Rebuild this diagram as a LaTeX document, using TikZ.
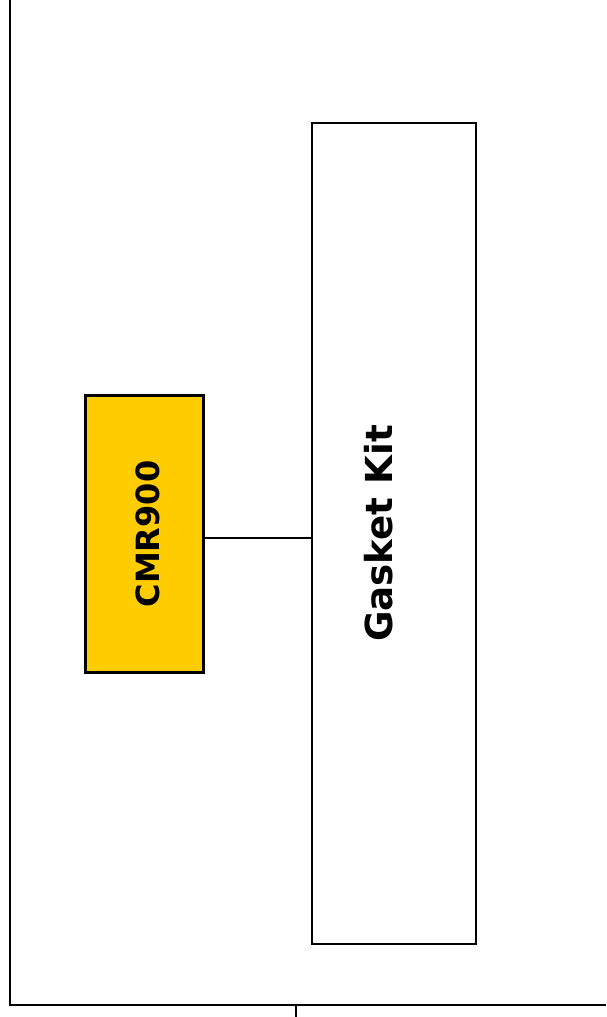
\documentclass[tikz,border=0pt]{standalone}
\usepackage{fontspec}
\setmainfont{DejaVu Sans}
\usetikzlibrary{calc}
\definecolor{part}{HTML}{FFCC00}
\definecolor{ink}{HTML}{000000}
\tikzset{frame/.style={draw=ink,line width=1pt},
  item/.style={draw=ink,line width=1.25pt,rotate=90,inner sep=0pt,font=\bfseries},
  link/.style={draw=ink,line width=1pt}}
\newcommand{\shifted}[2]{\raisebox{#1}[0pt][0pt]{#2}}

\begin{document}
\begin{tikzpicture}[x=0.5pt,y=-0.5pt]
  \useasboundingbox (0,0) rectangle (606,1017);
  % outer frame and foot tick
  \draw[frame] (10,0) -- (10,1005) -- (606,1005);
  \coordinate (foot) at (296,1005);
  \draw[frame] (foot) -- ++(0,12);
  % parts
  \node[item,fill=part,minimum width=138.5pt,minimum height=59pt,
    font=\bfseries\fontsize{16}{19}\selectfont] (cmr) at (144.5,534) {\shifted{-7.25pt}{CMR900}};
  \node[item,fill=white,minimum width=410.5pt,minimum height=82pt,
    font=\bfseries\fontsize{18.6}{22}\selectfont] (kit) at (394,533.5) {\shifted{1pt}{Gasket Kit}};
  \draw[link] ([yshift=-2pt]cmr.south) -- ([yshift=-2pt]cmr.south -| kit.north);
\end{tikzpicture}
\end{document}
